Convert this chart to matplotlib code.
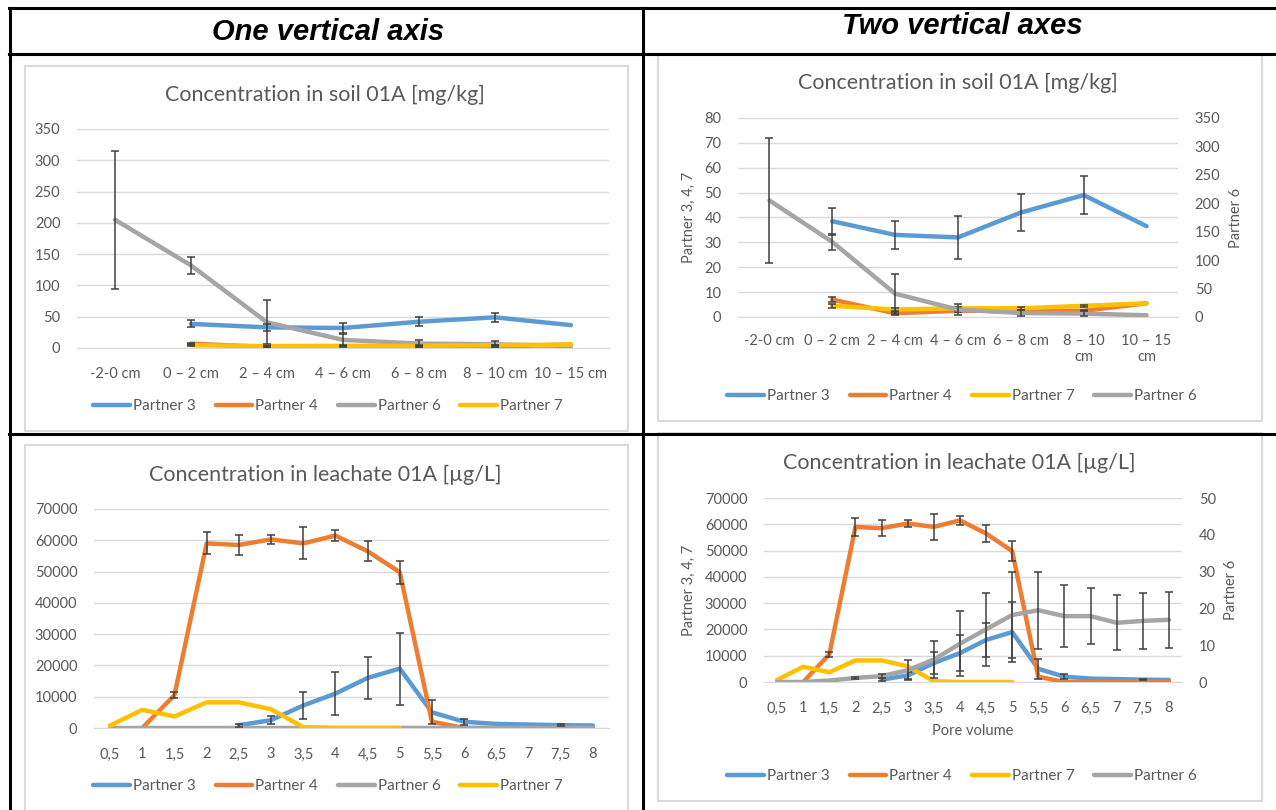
import numpy as np
import matplotlib
matplotlib.use('Agg')
import matplotlib.pyplot as plt
from matplotlib.lines import Line2D
from matplotlib.patches import Rectangle

nan = np.nan

# soil data
soil_cats = ['-2-0 cm', '0 – 2 cm', '2 – 4 cm', '4 – 6 cm', '6 – 8 cm', '8 – 10 cm', '10 – 15 cm']
soil_cats_wrap = ['-2-0 cm', '0 – 2 cm', '2 – 4 cm', '4 – 6 cm', '6 – 8 cm', '8 – 10\ncm', '10 – 15\ncm']
soil_p3 = [nan, 38.5, 33, 32, 42, 49, 36.5]
soil_p3_err = [nan, 5.5, 5.5, 8.5, 7.5, 7.5, nan]
soil_p4 = [nan, 7, 1.5, 2.5, 2.5, 2.5, 5.5]
soil_p4_err = [nan, 1, 0.5, 0.5, 0.5, 0.5, nan]
soil_p7 = [nan, 4.5, 3, 3.5, 3.5, 4.5, 5.5]
soil_p7_err = [nan, 0.8, 0.5, 0.5, 0.5, 0.5, nan]
soil_p6 = [205, 132, 41, 13, 7, 6, 3]
soil_p6_err = [110, 14, 35, 10, 6, 5, nan]

# leachate data
pore = ['0,5', '1', '1,5', '2', '2,5', '3', '3,5', '4', '4,5', '5', '5,5', '6', '6,5', '7', '7,5', '8']
lea_p3 = [nan, nan, nan, nan, 900, 2500, 7200, 11000, 16000, 19000, 5000, 2000, 1300, 1100, 900, 800]
lea_p3_err = [nan, nan, nan, nan, 500, 1200, 4300, 6800, 6600, 11500, 3800, 900, nan, nan, 300, nan]
lea_p4 = [nan, 0, 10500, 59000, 58500, 60300, 59000, 61500, 56500, 49800, 2000, 0, 0, 0, 0, 0]
lea_p4_err = [nan, nan, 1000, 3500, 3100, 1500, 5100, 1800, 3200, 3700, nan, nan, nan, nan, nan, nan]
lea_p7 = [800, 5800, 3700, 8200, 8200, 6000, 300, 0, 0, 0, nan, nan, nan, nan, nan, nan]
lea_p6 = [0, 0, 0.4, 1.1, 1.6, 3.2, 6.1, 10.4, 14.3, 18.2, 19.5, 17.9, 17.9, 16.1, 16.6, 16.9]
lea_p6_err = [nan, nan, nan, 0.3, 0.5, 2.7, 5.1, 8.9, 10, 11.8, 10.4, 8.4, 7.6, 7.5, 7.5, 7.6]

C3 = '#5B9BD5'
C4 = '#ED7D31'
C6 = '#A5A5A5'
C7 = '#FFC000'
TXT = '#595959'
GRID = '#D9D9D9'
ERR = '#404040'

plt.rcParams['font.family'] = ['Lato', 'DejaVu Sans']

W, H = 1276, 810
fig = plt.figure(figsize=(W / 100, H / 100), dpi=100)


def box(x0, y0, x1, y1):
    return [x0 / W, 1 - y1 / H, (x1 - x0) / W, (y1 - y0) / H]


def fx(x):
    return x / W


def fy(y):
    return 1 - y / H


# table lines
def hline(y, x0, x1, lw=2.2):
    fig.add_artist(Line2D([fx(x0), fx(x1)], [fy(y), fy(y)], color='black', lw=lw))


def vline(x, y0, y1, lw=2.2):
    fig.add_artist(Line2D([fx(x), fx(x)], [fy(y0), fy(y1)], color='black', lw=lw))


hline(8, 9, W)
hline(53.5, 9, W)
hline(433.5, 9, W)
vline(9.5, 8, H)
vline(643, 8, H)

# chart frames
for (x0, y0, x1, y1) in [(25, 66, 628, 431), (658, 54, 1262, 421),
                         (25, 445, 628, 815), (658, 433, 1262, 801)]:
    fig.add_artist(Rectangle((fx(x0), fy(y1)), fx(x1) - fx(x0), fy(y0) - fy(y1),
                             fill=False, edgecolor=GRID, lw=1.5))

fig.text(fx(328), fy(32), 'One vertical axis', ha='center', va='center',
         fontsize=21, fontweight='bold', fontstyle='italic', family='Liberation Sans')
fig.text(fx(962), fy(26), 'Two vertical axes', ha='center', va='center',
         fontsize=21, fontweight='bold', fontstyle='italic', family='Liberation Sans')


def style(ax, n, ymax, step, labels):
    ax.set_xlim(-0.5, n - 0.5)
    ax.set_ylim(0, ymax)
    ax.set_yticks(np.arange(0, ymax + step / 2, step))
    ax.set_xticks(range(n))
    ax.set_xticklabels(labels)
    for s in ['top', 'right', 'left']:
        ax.spines[s].set_visible(False)
    ax.spines['bottom'].set_color(GRID)
    ax.grid(axis='y', color=GRID, lw=1)
    ax.set_axisbelow(True)
    ax.tick_params(length=0, labelsize=10.5, colors=TXT)
    ax.tick_params(axis='x', pad=14)
    ax.tick_params(axis='y', pad=12)
    ax.patch.set_alpha(0)


def series(ax, x, y, err, color, label):
    ln, = ax.plot(x, y, color=color, lw=3.2, label=label, solid_capstyle='round', zorder=3)
    if err is not None:
        ax.errorbar(x, y, yerr=err, fmt='none', ecolor=ERR, elinewidth=1.1,
                    capsize=3, capthick=1.1, zorder=4)
    return ln


def legend(handles, cx, cy):
    fig.legend(handles=handles, loc='center', bbox_to_anchor=(fx(cx), fy(cy)), ncol=4,
               frameon=False, fontsize=11, handlelength=2.4, handletextpad=0.2,
               columnspacing=1.3, labelcolor=TXT)


def title(text, cx, cy):
    fig.text(fx(cx), fy(cy), text, ha='center', va='center', fontsize=15.5, color=TXT)


# top-left: soil, one axis
xs = np.arange(len(soil_cats))
ax = fig.add_axes(box(77, 129, 609, 348))
style(ax, len(soil_cats), 350, 50, soil_cats)
h3 = series(ax, xs, soil_p3, soil_p3_err, C3, 'Partner 3')
h4 = series(ax, xs, soil_p4, soil_p4_err, C4, 'Partner 4')
h6 = series(ax, xs, soil_p6, soil_p6_err, C6, 'Partner 6')
h7 = series(ax, xs, soil_p7, soil_p7_err, C7, 'Partner 7')
title('Concentration in soil 01A [mg/kg]', 325, 95)
legend([h3, h4, h6, h7], 328, 406)

# top-right: soil, two axes
ax = fig.add_axes(box(738, 118, 1178, 317))
style(ax, len(soil_cats), 80, 10, soil_cats_wrap)
ax.tick_params(axis='x', pad=12)
ax.set_ylabel('Partner 3, 4, 7', color=TXT, fontsize=10.5, labelpad=6)
h3 = series(ax, xs, soil_p3, soil_p3_err, C3, 'Partner 3')
h4 = series(ax, xs, soil_p4, soil_p4_err, C4, 'Partner 4')
h7 = series(ax, xs, soil_p7, soil_p7_err, C7, 'Partner 7')
ax2 = ax.twinx()
ax2.set_ylim(0, 350)
ax2.set_yticks(np.arange(0, 351, 50))
for s in ax2.spines.values():
    s.set_visible(False)
ax2.tick_params(length=0, labelsize=10.5, colors=TXT, pad=12)
ax2.set_ylabel('Partner 6', color=TXT, fontsize=10.5, labelpad=6)
h6 = series(ax2, xs, soil_p6, soil_p6_err, C6, 'Partner 6')
title('Concentration in soil 01A [mg/kg]', 958, 83)
legend([h3, h4, h7, h6], 962, 396)

# bottom-left: leachate, one axis
xp = np.arange(len(pore))
ax = fig.add_axes(box(94, 509, 609, 728))
style(ax, len(pore), 70000, 10000, pore)
h3 = series(ax, xp, lea_p3, lea_p3_err, C3, 'Partner 3')
h4 = series(ax, xp, lea_p4, lea_p4_err, C4, 'Partner 4')
h6 = series(ax, xp, lea_p6, None, C6, 'Partner 6')
h7 = series(ax, xp, lea_p7, None, C7, 'Partner 7')
title('Concentration in leachate 01A [µg/L]', 325, 475)
legend([h3, h4, h6, h7], 328, 786)

# bottom-right: leachate, two axes
ax = fig.add_axes(box(764, 498, 1182, 682))
style(ax, len(pore), 70000, 10000, pore)
ax.set_ylabel('Partner 3, 4, 7', color=TXT, fontsize=10.5, labelpad=6)
ax.set_xlabel('Pore volume', color=TXT, fontsize=10.5, labelpad=6)
h3 = series(ax, xp, lea_p3, lea_p3_err, C3, 'Partner 3')
h4 = series(ax, xp, lea_p4, lea_p4_err, C4, 'Partner 4')
h7 = series(ax, xp, lea_p7, None, C7, 'Partner 7')
ax2 = ax.twinx()
ax2.set_ylim(0, 50)
ax2.set_yticks(np.arange(0, 51, 10))
for s in ax2.spines.values():
    s.set_visible(False)
ax2.tick_params(length=0, labelsize=10.5, colors=TXT, pad=12)
ax2.set_ylabel('Partner 6', color=TXT, fontsize=10.5, labelpad=6)
h6 = series(ax2, xp, lea_p6, lea_p6_err, C6, 'Partner 6')
title('Concentration in leachate 01A [µg/L]', 959, 463)
legend([h3, h4, h7, h6], 962, 776)

fig.savefig('out.png', dpi=100)
